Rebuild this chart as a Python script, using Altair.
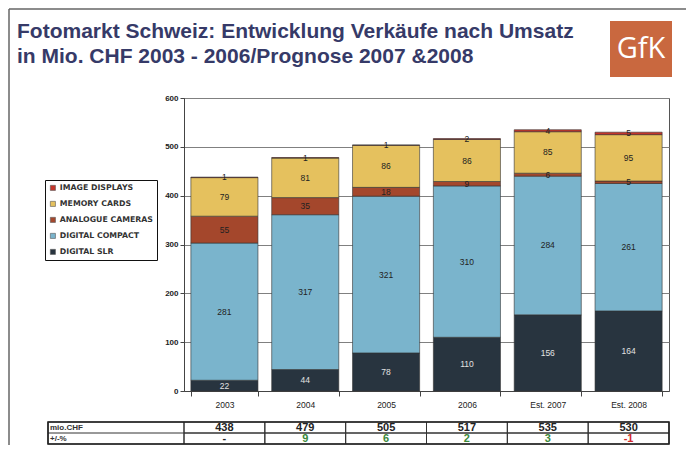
import altair as alt
import pandas as pd

# ---------------- data ----------------
years = ["2003", "2004", "2005", "2006", "Est. 2007", "Est. 2008"]
series = ["IMAGE DISPLAYS", "MEMORY CARDS", "ANALOGUE CAMERAS", "DIGITAL COMPACT", "DIGITAL SLR"]
digital_slr = [22, 44, 78, 110, 156, 164]
digital_compact = [281, 317, 321, 310, 284, 261]
analogue_cameras = [55, 35, 18, 9, 6, 5]
memory_cards = [79, 81, 86, 86, 85, 95]
image_displays = [1, 1, 1, 2, 4, 5]
totals = ["438", "479", "505", "517", "535", "530"]
changes = ["-", "9", "6", "2", "3", "-1"]
change_kind = ["none", "up", "up", "up", "up", "down"]
row_labels = ["mio.CHF", "+/-%"]
y_ticks = [0, 100, 200, 300, 400, 500, 600]
colors = ["#c4352b", "#e5c15e", "#a4472c", "#7ab4cc", "#28343f"]
title_lines = ["Fotomarkt Schweiz: Entwicklung Verkäufe nach Umsatz",
               "in Mio. CHF 2003 - 2006/Prognose 2007 &2008"]
logo_text = "GfK"

# stacking order: bottom first
stack_series = [
    ("DIGITAL SLR", digital_slr),
    ("DIGITAL COMPACT", digital_compact),
    ("ANALOGUE CAMERAS", analogue_cameras),
    ("MEMORY CARDS", memory_cards),
    ("IMAGE DISPLAYS", image_displays),
]
rows = []
for k, (name, vals) in enumerate(stack_series):
    for yr, v in zip(years, vals):
        rows.append({"year": yr, "series": name, "value": v, "ord": k,
                     "tcol": "#e2e2e2" if name == "DIGITAL SLR" else "#222222"})
df = pd.DataFrame(rows)

tdf = pd.DataFrame({"year": years, "total": totals, "change": changes,
                    "kind": change_kind})
kind_colors = {"none": "#222222", "up": "#3b8a3b", "down": "#d42a2a"}
tdf["ccol"] = tdf["kind"].map(kind_colors)

W, H = 485, 293
FONT = "Liberation Sans"

xscale = alt.Scale(domain=years, paddingInner=0.17, paddingOuter=0.085)

base = alt.Chart(df).transform_stack(
    stack="value", groupby=["year"], as_=["y0", "y1"],
    sort=[alt.SortField("ord", order="ascending")]
).transform_calculate(mid="(datum.y0 + datum.y1) / 2")

bars = base.mark_bar(stroke="#333333", strokeWidth=0.6).encode(
    x=alt.X("year:N", sort=years, scale=xscale,
            axis=alt.Axis(title=None, labelAngle=0, tickBand="extent", tickSize=5,
                          labelFont=FONT, labelFontSize=8.5, labelFontWeight="normal",
                          labelColor="#222", labelPadding=4, domainColor="#444",
                          tickColor="#444")),
    y=alt.Y("y0:Q", scale=alt.Scale(domain=[0, 600], nice=False),
            axis=alt.Axis(title=None, values=y_ticks, grid=True, gridColor="#808080",
                          gridWidth=1, tickSize=4, labelFont=FONT, labelFontSize=8,
                          labelFontWeight="bold", labelColor="#222", labelPadding=2,
                          domainColor="#444", tickColor="#444")),
    y2="y1:Q",
    color=alt.Color("series:N", scale=alt.Scale(domain=series, range=colors),
                    legend=alt.Legend(orient="none", legendX=-139, legendY=82, title=None,
                                      strokeColor="#111", fillColor="#ffffff", padding=4,
                                      symbolType="square", symbolSize=26,
                                      symbolStrokeColor="#555", symbolStrokeWidth=0.6,
                                      labelFont="DejaVu Sans", labelFontWeight="bold",
                                      labelFontSize=7.8, labelColor="#333",
                                      labelOffset=3, rowPadding=7)),
)

labels = base.mark_text(font=FONT, fontSize=8.5, baseline="middle").encode(
    x=alt.X("year:N", sort=years, scale=xscale),
    y=alt.Y("mid:Q"),
    text="value:Q",
    color=alt.Color("tcol:N", scale=None),
)

chart_part = alt.layer(bars, labels)

# ---------------- table ----------------
tscale = alt.Scale(domain=years, paddingInner=0, paddingOuter=0)
tb = alt.Chart(tdf)
tx = alt.X("year:N", sort=years, scale=tscale, axis=None)
cells1 = tb.mark_rect(fill="transparent", stroke="#333", strokeWidth=1).encode(
    x=tx, y=alt.value(324), y2=alt.value(335))
cells2 = tb.mark_rect(fill="transparent", stroke="#333", strokeWidth=1).encode(
    x=tx, y=alt.value(335), y2=alt.value(346))
tot_text = tb.mark_text(font=FONT, fontSize=11, fontWeight="bold", color="#222",
                        baseline="middle").encode(x=tx, y=alt.value(329.5), text="total:N")
chg_text = tb.mark_text(font=FONT, fontSize=11, fontWeight="bold",
                        baseline="middle").encode(
    x=tx, y=alt.value(341), text="change:N", color=alt.Color("ccol:N", scale=None))
table_part = alt.layer(cells1, cells2, tot_text, chg_text)

one = pd.DataFrame({"a": [0]})
lab_df = pd.DataFrame({"lab": row_labels, "yy": [329.5, 341]})
lab_cells = alt.Chart(one).mark_rect(fill="transparent", stroke="#333", strokeWidth=1).encode(
    x=alt.value(-136), x2=alt.value(0), y=alt.value(324), y2=alt.value(346))
lab_mid = alt.Chart(one).mark_rule(color="#333", strokeWidth=1).encode(
    x=alt.value(-136), x2=alt.value(0), y=alt.value(335))
outer_tab = alt.Chart(one).mark_rect(fill="transparent", stroke="#222", strokeWidth=1.6).encode(
    x=alt.value(-136), x2=alt.value(W), y=alt.value(324), y2=alt.value(346))
lab_text = alt.Chart(lab_df).mark_text(font=FONT, fontSize=8, fontWeight="bold", color="#333",
                                       align="left", baseline="middle").encode(
    x=alt.value(-134), y=alt.Y("yy:Q", scale=None), text="lab:N")

# ---------------- decorations ----------------
t1 = alt.Chart(pd.DataFrame({"t": [title_lines[0]]})).mark_text(
    font=FONT, fontSize=21, fontWeight="bold", color="#363a68", align="left",
    baseline="alphabetic").encode(x=alt.value(-167), y=alt.value(-60), text="t:N")
t2 = alt.Chart(pd.DataFrame({"t": [title_lines[1]]})).mark_text(
    font=FONT, fontSize=21, fontWeight="bold", color="#363a68", align="left",
    baseline="alphabetic").encode(x=alt.value(-167), y=alt.value(-35), text="t:N")
logo_box = alt.Chart(one).mark_rect(color="#c9683f").encode(
    x=alt.value(426), x2=alt.value(488), y=alt.value(-77), y2=alt.value(-21))
logo = alt.Chart(pd.DataFrame({"t": [logo_text]})).mark_text(
    font="Open Sans", fontSize=29, color="#ffffff", align="center",
    baseline="middle").encode(x=alt.value(457), y=alt.value(-49), text="t:N")
frame_left = alt.Chart(one).mark_rule(color="#666", strokeWidth=1.5).encode(
    x=alt.value(-175), y=alt.value(-89), y2=alt.value(347))
frame_top = alt.Chart(one).mark_rule(color="#666", strokeWidth=1.5).encode(
    x=alt.value(-175), x2=alt.value(502), y=alt.value(-89))

chart = alt.layer(
    frame_left, frame_top, t1, t2, logo_box, logo,
    chart_part, table_part, lab_cells, lab_mid, outer_tab, lab_text
).resolve_scale(x="independent").properties(
    width=W, height=H,
    autosize=alt.AutoSizeParams(type="none"),
    padding={"left": 176, "top": 90, "right": 17, "bottom": 54},
    background="#ffffff",
).configure_view(stroke="#555", strokeWidth=1)

chart.save("out.html", embed_options={"renderer": "svg", "actions": False})
